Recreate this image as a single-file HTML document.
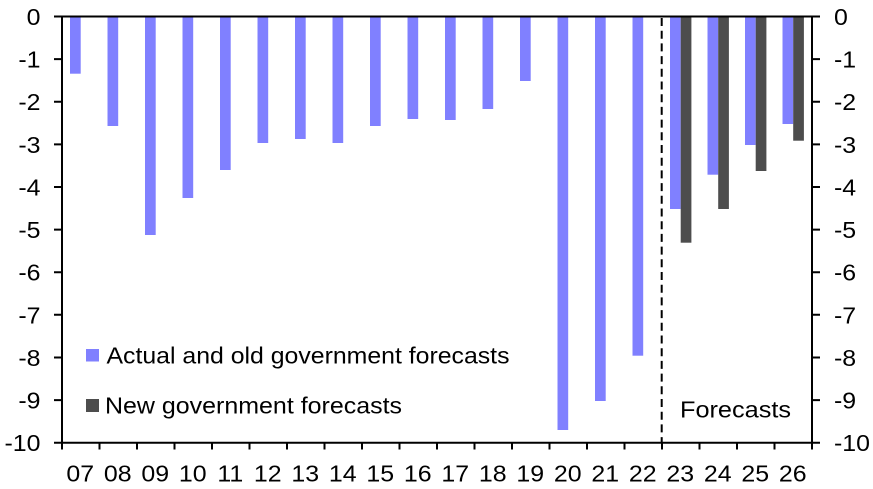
<!DOCTYPE html>
<html><head><meta charset="utf-8"><style>
html,body{margin:0;padding:0;background:#fff;}
svg{display:block;}
text{font-family:"Liberation Sans",Arial,sans-serif;font-size:23.5px;fill:#000;}
</style></head><body>
<svg width="873" height="489" viewBox="0 0 873 489" xmlns="http://www.w3.org/2000/svg">
<rect width="873" height="489" fill="#fff"/>
<g fill="#8080FF">
<rect x="70" y="16.5" width="10.7" height="57.2"/>
<rect x="107.5" y="16.5" width="10.7" height="109.5"/>
<rect x="145" y="16.5" width="10.7" height="218.5"/>
<rect x="182.5" y="16.5" width="10.7" height="181.5"/>
<rect x="220" y="16.5" width="10.7" height="153.5"/>
<rect x="257.5" y="16.5" width="10.7" height="126.5"/>
<rect x="295" y="16.5" width="10.7" height="122.5"/>
<rect x="332.5" y="16.5" width="10.7" height="126.5"/>
<rect x="370" y="16.5" width="10.7" height="109.5"/>
<rect x="407.5" y="16.5" width="10.7" height="102.5"/>
<rect x="445" y="16.5" width="10.7" height="103.5"/>
<rect x="482.5" y="16.5" width="10.7" height="92.5"/>
<rect x="520" y="16.5" width="10.7" height="64.5"/>
<rect x="557.5" y="16.5" width="10.7" height="413.5"/>
<rect x="595" y="16.5" width="10.7" height="384.5"/>
<rect x="632.5" y="16.5" width="10.7" height="339.2"/>
<rect x="670" y="16.5" width="10.7" height="192.5"/>
<rect x="707.5" y="16.5" width="10.7" height="158.2"/>
<rect x="745" y="16.5" width="10.7" height="128.5"/>
<rect x="782.5" y="16.5" width="10.7" height="107.5"/>
</g>
<g fill="#4D4D4D">
<rect x="680.7" y="16.5" width="10.7" height="226.2"/>
<rect x="718.2" y="16.5" width="10.7" height="192.5"/>
<rect x="755.7" y="16.5" width="10.7" height="154.5"/>
<rect x="793.2" y="16.5" width="10.7" height="124.2"/>
</g>
<line x1="661.7" y1="18" x2="661.7" y2="442" stroke="#000" stroke-width="2" stroke-dasharray="8 4.7"/>
<g stroke="#000" stroke-width="2" fill="none">
<line x1="54" y1="16.5" x2="820" y2="16.5"/>
<line x1="54" y1="442.7" x2="820" y2="442.7"/>
<line x1="62" y1="16.5" x2="62" y2="443.7"/>
<line x1="812" y1="16.5" x2="812" y2="443.7"/>
<path d="M54 59.1H62M54 101.7H62M54 144.4H62M54 187H62M54 229.6H62M54 272.2H62M54 314.8H62M54 357.5H62M54 400.1H62"/>
<path d="M812 59.1H820M812 101.7H820M812 144.4H820M812 187H820M812 229.6H820M812 272.2H820M812 314.8H820M812 357.5H820M812 400.1H820"/>
<path d="M62 442.7V449.5M99.5 442.7V449.5M137 442.7V449.5M174.5 442.7V449.5M212 442.7V449.5M249.5 442.7V449.5M287 442.7V449.5M324.5 442.7V449.5M362 442.7V449.5M399.5 442.7V449.5M437 442.7V449.5M474.5 442.7V449.5M512 442.7V449.5M549.5 442.7V449.5M587 442.7V449.5M624.5 442.7V449.5M662 442.7V449.5M699.5 442.7V449.5M737 442.7V449.5M774.5 442.7V449.5M812 442.7V449.5"/>
</g>
<g text-anchor="end">
<text transform="translate(40.5,25) scale(1.06,1)">0</text>
<text transform="translate(40.5,67.6) scale(1.06,1)">-1</text>
<text transform="translate(40.5,110.2) scale(1.06,1)">-2</text>
<text transform="translate(40.5,152.9) scale(1.06,1)">-3</text>
<text transform="translate(40.5,195.5) scale(1.06,1)">-4</text>
<text transform="translate(40.5,238.1) scale(1.06,1)">-5</text>
<text transform="translate(40.5,280.7) scale(1.06,1)">-6</text>
<text transform="translate(40.5,323.3) scale(1.06,1)">-7</text>
<text transform="translate(40.5,366) scale(1.06,1)">-8</text>
<text transform="translate(40.5,408.6) scale(1.06,1)">-9</text>
<text transform="translate(40.5,451.2) scale(1.06,1)">-10</text>
</g>
<g>
<text transform="translate(834,25) scale(1.06,1)">0</text>
<text transform="translate(834,67.6) scale(1.06,1)">-1</text>
<text transform="translate(834,110.2) scale(1.06,1)">-2</text>
<text transform="translate(834,152.9) scale(1.06,1)">-3</text>
<text transform="translate(834,195.5) scale(1.06,1)">-4</text>
<text transform="translate(834,238.1) scale(1.06,1)">-5</text>
<text transform="translate(834,280.7) scale(1.06,1)">-6</text>
<text transform="translate(834,323.3) scale(1.06,1)">-7</text>
<text transform="translate(834,366) scale(1.06,1)">-8</text>
<text transform="translate(834,408.6) scale(1.06,1)">-9</text>
<text transform="translate(834,451.2) scale(1.06,1)">-10</text>
</g>
<g text-anchor="middle">
<text transform="translate(80.25,481.3) scale(1.06,1)">07</text>
<text transform="translate(117.75,481.3) scale(1.06,1)">08</text>
<text transform="translate(155.25,481.3) scale(1.06,1)">09</text>
<text transform="translate(192.75,481.3) scale(1.06,1)">10</text>
<text transform="translate(230.25,481.3) scale(1.06,1)">11</text>
<text transform="translate(267.75,481.3) scale(1.06,1)">12</text>
<text transform="translate(305.25,481.3) scale(1.06,1)">13</text>
<text transform="translate(342.75,481.3) scale(1.06,1)">14</text>
<text transform="translate(380.25,481.3) scale(1.06,1)">15</text>
<text transform="translate(417.75,481.3) scale(1.06,1)">16</text>
<text transform="translate(455.25,481.3) scale(1.06,1)">17</text>
<text transform="translate(492.75,481.3) scale(1.06,1)">18</text>
<text transform="translate(530.25,481.3) scale(1.06,1)">19</text>
<text transform="translate(567.75,481.3) scale(1.06,1)">20</text>
<text transform="translate(605.25,481.3) scale(1.06,1)">21</text>
<text transform="translate(642.75,481.3) scale(1.06,1)">22</text>
<text transform="translate(680.25,481.3) scale(1.06,1)">23</text>
<text transform="translate(717.75,481.3) scale(1.06,1)">24</text>
<text transform="translate(755.25,481.3) scale(1.06,1)">25</text>
<text transform="translate(792.75,481.3) scale(1.06,1)">26</text>
</g>
<rect x="86" y="349" width="13" height="12.5" fill="#8080FF"/>
<text x="106.5" y="363.3" textLength="403" lengthAdjust="spacingAndGlyphs">Actual and old government forecasts</text>
<rect x="86" y="399" width="13" height="13" fill="#4D4D4D"/>
<text x="105" y="413.3" textLength="297" lengthAdjust="spacingAndGlyphs">New government forecasts</text>
<text x="680" y="417.3" textLength="111" lengthAdjust="spacingAndGlyphs">Forecasts</text>
</svg>
</body></html>
